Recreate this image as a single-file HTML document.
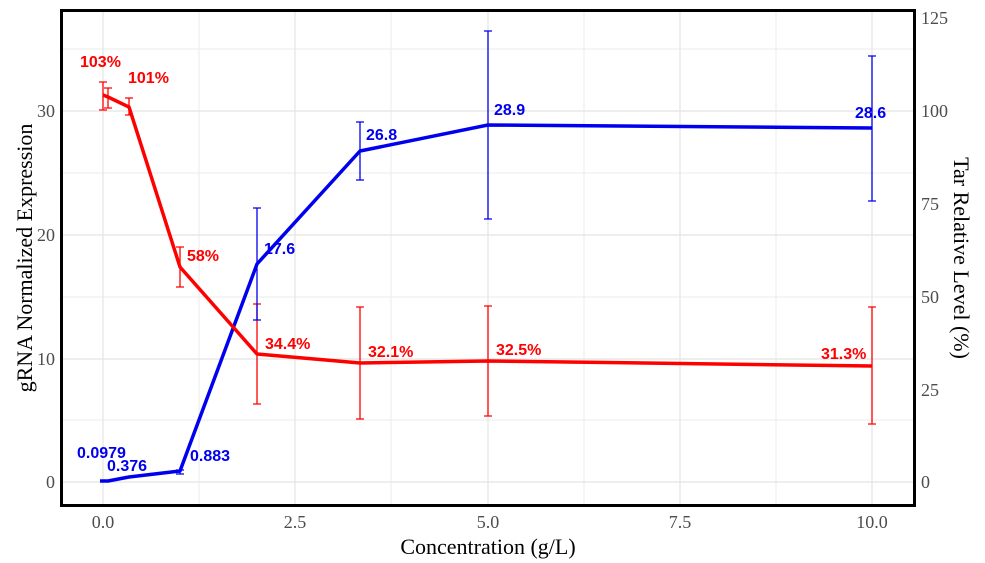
<!DOCTYPE html>
<html><head><meta charset="utf-8"><style>
body{margin:0;background:#fff}
svg{display:block}
.t{font-family:"Liberation Serif",serif;fill:#4d4d4d;font-size:18px}
.ti{font-family:"Liberation Serif",serif;fill:#000;font-size:22px}
.lb{font-family:"Liberation Sans",sans-serif;font-weight:bold;font-size:16px}
</style></head><body>
<svg width="985" height="563" viewBox="0 0 985 563" xmlns="http://www.w3.org/2000/svg">
<rect width="985" height="563" fill="#fff"/>
<g stroke="#ebebeb" stroke-width="1">
<line x1="61" x2="915" y1="420" y2="420"/><line x1="61" x2="915" y1="297" y2="297"/><line x1="61" x2="915" y1="173" y2="173"/><line x1="61" x2="915" y1="49" y2="49"/>
<line y1="10" y2="506" x1="199" x2="199"/><line y1="10" y2="506" x1="391" x2="391"/><line y1="10" y2="506" x1="584" x2="584"/><line y1="10" y2="506" x1="776" x2="776"/>
</g>
<g stroke="#e4e4e4" stroke-width="1.2">
<line x1="61" x2="915" y1="482" y2="482"/><line x1="61" x2="915" y1="359" y2="359"/><line x1="61" x2="915" y1="235" y2="235"/><line x1="61" x2="915" y1="111" y2="111"/>
<line y1="10" y2="506" x1="103" x2="103"/><line y1="10" y2="506" x1="295" x2="295"/><line y1="10" y2="506" x1="488" x2="488"/><line y1="10" y2="506" x1="680" x2="680"/><line y1="10" y2="506" x1="872" x2="872"/>
</g>
<g stroke="#ff0000" stroke-width="1.3" fill="none">
<path d="M103 82V110M99 82H107M99 110H107"/>
<path d="M108 88V108M104 88H112M104 108H112"/>
<path d="M129 98V115M125 98H133M125 115H133"/>
<path d="M180 247V287M176 247H184M176 287H184"/>
<path d="M257 304V404M253 304H261M253 404H261"/>
<path d="M360 307V419M356 307H364M356 419H364"/>
<path d="M488 306V416M484 306H492M484 416H492"/>
<path d="M872 307V424M868 307H876M868 424H876"/>
</g>
<g stroke="#0000ee" stroke-width="1.3" fill="none">
<path d="M180 470V474M176 470H184M176 474H184"/>
<path d="M257 208V320M253 208H261M253 320H261"/>
<path d="M360 122V180M356 122H364M356 180H364"/>
<path d="M488 31V219M484 31H492M484 219H492"/>
<path d="M872 56V201M868 56H876M868 201H876"/>
</g>
<polyline fill="none" stroke="#0000ee" stroke-width="3.5" stroke-linejoin="round" points="100,481 108,481 129,477 180,471 257,264 360,151 488,125 872,128"/>
<polyline fill="none" stroke="#ff0000" stroke-width="3.5" stroke-linejoin="round" points="103,95 108,97 129,107 180,267 257,354 360,363 488,361 872,366"/>
<g class="lb" fill="#ff0000">
<text x="80" y="67">103%</text><text x="128" y="83">101%</text><text x="187" y="261">58%</text>
<text x="265" y="349">34.4%</text><text x="368" y="357">32.1%</text><text x="496" y="355">32.5%</text><text x="821" y="359">31.3%</text>
</g>
<g class="lb" fill="#0000ee">
<text x="77" y="458">0.0979</text><text x="107" y="471">0.376</text><text x="190" y="461">0.883</text>
<text x="264" y="254">17.6</text><text x="366" y="140">26.8</text><text x="494" y="115">28.9</text><text x="855" y="118">28.6</text>
</g>
<rect x="61.5" y="10.5" width="853" height="495" fill="none" stroke="#000" stroke-width="3"/>
<g class="t" text-anchor="end">
<text x="55" y="488">0</text><text x="55" y="365">10</text><text x="55" y="241">20</text><text x="55" y="117">30</text>
</g>
<g class="t">
<text x="921" y="488">0</text><text x="921" y="396">25</text><text x="921" y="303">50</text><text x="921" y="210">75</text><text x="921" y="117">100</text><text x="921" y="24">125</text>
</g>
<g class="t" text-anchor="middle">
<text x="103" y="528">0.0</text><text x="295" y="528">2.5</text><text x="488" y="528">5.0</text><text x="680" y="528">7.5</text><text x="872" y="528">10.0</text>
</g>
<text class="ti" x="488" y="554" text-anchor="middle">Concentration (g/L)</text>
<text class="ti" transform="translate(32,258) rotate(-90)" text-anchor="middle">gRNA Normalized Expression</text>
<text class="ti" transform="translate(954,258) rotate(90)" text-anchor="middle">Tar Relative Level (%)</text>
</svg>
</body></html>
